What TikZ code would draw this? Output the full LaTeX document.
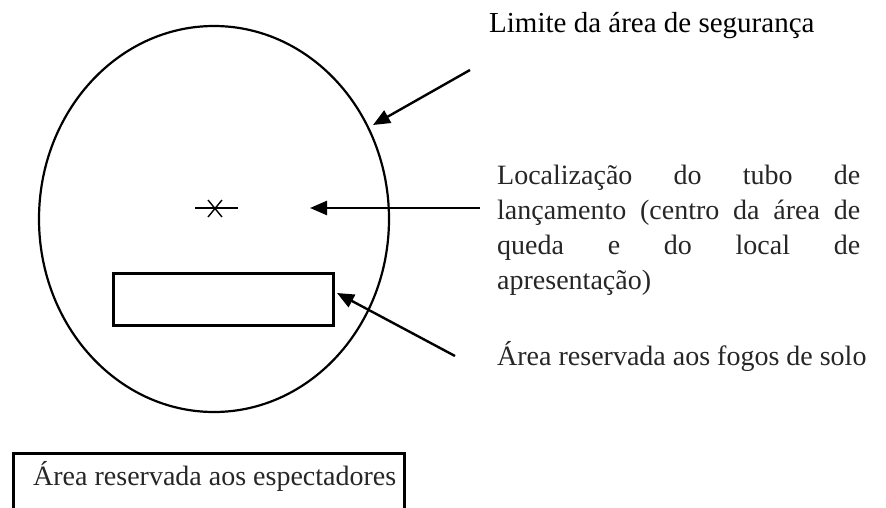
\documentclass[tikz,border=0pt]{standalone}
\usepackage{fontspec}
\setmainfont{Liberation Serif}
\usetikzlibrary{arrows.meta,shapes.geometric}
\begin{document}
\begin{tikzpicture}[x=1pt,y=-1pt,
  lbl/.style={font=\fontsize{28}{30}\selectfont, inner sep=0pt, anchor=base west, text=black!85},
  pointer/.style={line width=2.4pt, -{Triangle[length=17pt,width=14pt]}},
  outline/.style={draw, line width=2.2pt, inner sep=0pt}]
\useasboundingbox (0,0) rectangle (886,508);
% safety limit ellipse
\node (safety) [outline, ellipse, minimum width=350pt, minimum height=386pt] at (214,219) {};
% launch tube marker
\coordinate (tubeL) at (195,208);
\coordinate (tubeR) at (238,208);
\draw[line width=2.5pt] (tubeL) -- (tubeR);
\coordinate (x1) at (208,200); \coordinate (x2) at (222,217);
\coordinate (x3) at (208,217); \coordinate (x4) at (222,200);
\draw[line width=1.4pt] (x1) -- (x2) (x3) -- (x4);
% ground fireworks rectangle
\node (ground) [outline, line width=2.6pt, anchor=north west, minimum width=220pt, minimum height=52pt] at (112,272) {};
% spectators box
\node (specbox) [outline, line width=3pt, anchor=north west, minimum width=391pt, minimum height=80pt] at (12,452) {};
% labels
\node (limite) [lbl, text=black, font=\fontsize{29}{30}\selectfont] at (489,33) {Limite da área de segurança};
\node (loc1) [lbl] at (497,184) {\makebox[363pt][s]{Localização do tubo de}};
\node (loc2) [lbl] at (497,219) {\makebox[363pt][s]{lançamento (centro da área de}};
\node (loc3) [lbl] at (497,254) {\makebox[363pt][s]{queda e do local de}};
\node (loc4) [lbl] at (497,289) {apresentação)};
\node (fogos) [lbl] at (497,365) {Área reservada aos fogos de solo};
\node (spect) [lbl] at (33,485) {Área reservada aos espectadores};
% arrows
\coordinate (a1s) at (470,70);  \coordinate (a1e) at (373,125);
\coordinate (a2s) at (480,208); \coordinate (a2e) at (310,208);
\coordinate (a3s) at (455,356); \coordinate (a3e) at (337,293);
\draw[pointer] (a1s) -- (a1e);
\draw[pointer] (a2s) -- (a2e);
\draw[pointer] (a3s) -- (a3e);
\end{tikzpicture}
\end{document}
